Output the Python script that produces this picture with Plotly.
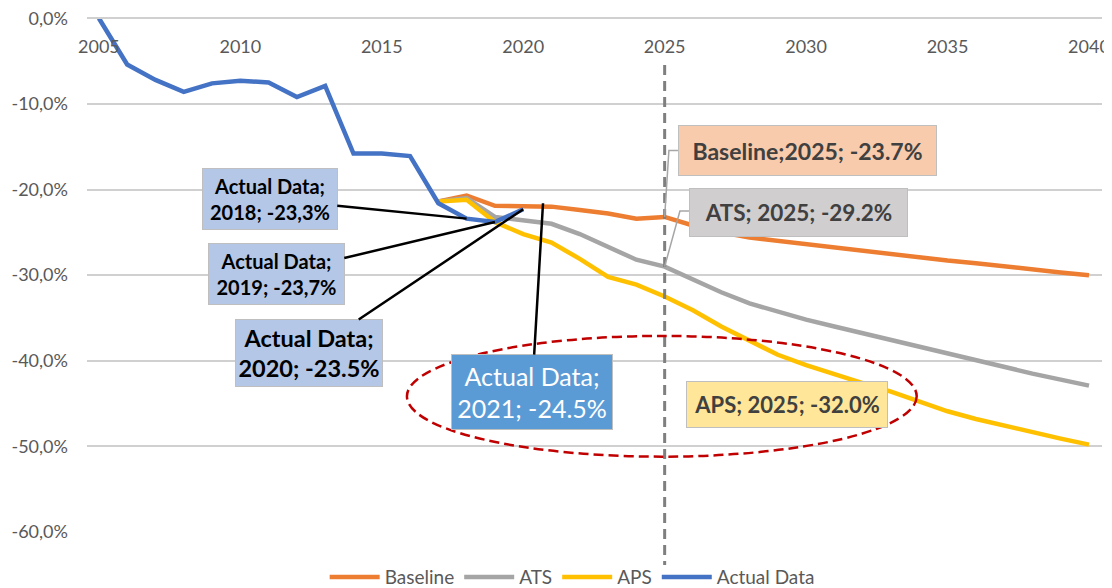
import plotly.graph_objects as go

# ---------------- data ----------------
actual_years = list(range(2005, 2021))
actual_vals = [0.0, -5.4, -7.2, -8.6, -7.6, -7.3, -7.5, -9.2, -7.9, -15.8, -15.8, -16.1, -21.6, -23.4, -23.8, -22.3]

scen_years = list(range(2017, 2041))
baseline_vals = [-21.4, -20.7, -21.9, -22.0, -22.0, -22.4, -22.8, -23.4, -23.2, -24.2, -25.0, -25.6,
                 -26.0, -26.4, -26.8, -27.1, -27.5, -28.0, -28.3, -28.6, -29.0, -29.4, -29.7, -30.0]
ats_vals = [-21.4, -21.0, -23.2, -23.6, -24.0, -25.2, -26.7, -28.2, -29.0, -30.5, -32.0, -33.3,
            -34.3, -35.2, -36.0, -36.8, -37.6, -38.4, -39.2, -40.0, -40.8, -41.5, -42.2, -42.9]
aps_vals = [-21.4, -21.2, -23.8, -25.2, -26.2, -28.1, -30.2, -31.1, -32.5, -34.1, -36.0, -37.7,
            -39.3, -40.5, -41.6, -42.6, -43.6, -44.7, -45.9, -46.8, -47.6, -48.4, -49.1, -49.8]

x_ticks = [2005, 2010, 2015, 2020, 2025, 2030, 2035, 2040]
y_ticks = [0, -10, -20, -30, -40, -50, -60]
y_tick_text = ["0,0%", "-10,0%", "-20,0%", "-30,0%", "-40,0%", "-50,0%", "-60,0%"]

FONT = "Lato"
GREY_TXT = "#595959"
GRID = "#D0D0D0"
LW = 4.5

fig = go.Figure()
fig.add_trace(go.Scatter(x=scen_years, y=baseline_vals, name="Baseline", mode="lines",
                         line=dict(color="#ED7D31", width=LW)))
fig.add_trace(go.Scatter(x=scen_years, y=ats_vals, name="ATS", mode="lines",
                         line=dict(color="#A5A5A5", width=LW)))
fig.add_trace(go.Scatter(x=scen_years, y=aps_vals, name="APS", mode="lines",
                         line=dict(color="#FFC000", width=LW)))
fig.add_trace(go.Scatter(x=actual_years, y=actual_vals, name="Actual Data", mode="lines",
                         line=dict(color="#4472C4", width=LW)))

def yr(v):
    return actual_vals[actual_years.index(v)]

def sc(lst, v):
    return lst[scen_years.index(v)]

ann_common = dict(xref="x", yref="y", axref="x", ayref="y", showarrow=True, arrowhead=0,
                  bordercolor="#BFBFBF", borderwidth=1, borderpad=1, align="center")
box_common = dict(xref="x", yref="y", showarrow=False, bordercolor="#BFBFBF", borderwidth=1,
                  borderpad=1, align="center")

annotations = [
    dict(x=2018, y=yr(2018), ax=2011.04, ay=-21.1, text="Actual Data;<br>2018; -23,3%",
         bgcolor="#B4C7E7", font=dict(family=FONT, size=20, color="black", weight="bold"),
         arrowcolor="black", arrowwidth=2.5, width=132, height=58, **ann_common),
    dict(x=2019, y=yr(2019), ax=2011.27, ay=-29.9, text="Actual Data;<br>2019; -23,7%",
         bgcolor="#B4C7E7", font=dict(family=FONT, size=20, color="black", weight="bold"),
         arrowcolor="black", arrowwidth=2.5, width=133, height=58, **ann_common),
    dict(x=2020, y=yr(2020), ax=2012.42, ay=-39.1, text="Actual Data;<br>2020; -23.5%",
         bgcolor="#B4C7E7", font=dict(family=FONT, size=23.5, color="black", weight="bold"),
         arrowcolor="black", arrowwidth=2.5, width=144, height=64, **ann_common),
    dict(x=2020.7, y=-21.6, ax=2020.31, ay=-43.66, text="Actual Data;<br>2021; -24.5%",
         bgcolor="#5B9BD5", font=dict(family=FONT, size=25, color="white"),
         arrowcolor="black", arrowwidth=2.5, width=158, height=72, **ann_common),
    dict(x=2030.04, y=-15.47, text="Baseline;2025; -23.7%",
         bgcolor="#F8CBAD", font=dict(family=FONT, size=23, color="#404040", weight="bold"),
         width=255, height=47, **box_common),
    dict(x=2029.73, y=-22.7, text="ATS; 2025; -29.2%",
         bgcolor="#D0CECE", font=dict(family=FONT, size=22.5, color="#404040", weight="bold"),
         width=215, height=45, **box_common),
    dict(x=2029.32, y=-45.1, text="APS; 2025; -32.0%",
         bgcolor="#FFE699", font=dict(family=FONT, size=22, color="#404040", weight="bold"),
         width=198, height=43, **box_common),
]

b25 = sc(baseline_vals, 2025)
a25 = sc(ats_vals, 2025)
shapes = [
    dict(type="line", xref="x", yref="paper", x0=2025, x1=2025, y0=0.9015, y1=-0.0637,
         line=dict(color="#7F7F7F", width=3, dash="10px,6px")),
    dict(type="circle", xref="x", yref="y", x0=2015.89, x1=2033.91, y0=-37.1, y1=-51.2,
         line=dict(color="#C00000", width=2.5, dash="10px,5px")),
    # elbow leader lines of the Baseline and ATS labels
    dict(type="path", xref="x", yref="y",
         path=f"M 2025.0,{b25} L 2025.15,-15.45 L 2025.47,-15.45",
         line=dict(color="#A6A6A6", width=1.5)),
    dict(type="path", xref="x", yref="y",
         path=f"M 2025.0,{a25} L 2025.54,-22.5 L 2025.86,-22.5",
         line=dict(color="#A6A6A6", width=1.5)),
]

# page has an 8px body margin, so the figure is 8px smaller than the window
fig.update_layout(
    width=1104, height=580,
    margin=dict(l=79, r=10, t=6, b=56, autoexpand=False),
    paper_bgcolor="white", plot_bgcolor="white",
    font=dict(family=FONT, size=18, color=GREY_TXT),
    showlegend=True,
    legend=dict(orientation="h", x=0.478, xanchor="center", y=-0.087, yanchor="middle",
                font=dict(family=FONT, size=19, color=GREY_TXT), itemwidth=50,
                bgcolor="rgba(0,0,0,0)"),
    xaxis=dict(range=[2004.58, 2040.46], tickvals=x_ticks, showgrid=False, zeroline=False,
               showline=True, linecolor=GRID, linewidth=1.5, ticks="",
               anchor="free", position=0.99174, side="bottom",
               automargin=False, ticklabelstandoff=12, ticklabeloverflow="allow",
               tickfont=dict(family=FONT, size=18, color=GREY_TXT)),
    yaxis=dict(range=[-60, 0.5], tickvals=y_ticks, ticktext=y_tick_text, showgrid=True,
               gridcolor=GRID, gridwidth=1.5, zeroline=True, zerolinecolor=GRID, zerolinewidth=1.5,
               showline=False, ticks="", automargin=False, ticklabelstandoff=18,
               ticklabeloverflow="allow",
               tickfont=dict(family=FONT, size=18, color=GREY_TXT)),
    annotations=annotations,
    shapes=shapes,
)

fig.write_html("out.html")
